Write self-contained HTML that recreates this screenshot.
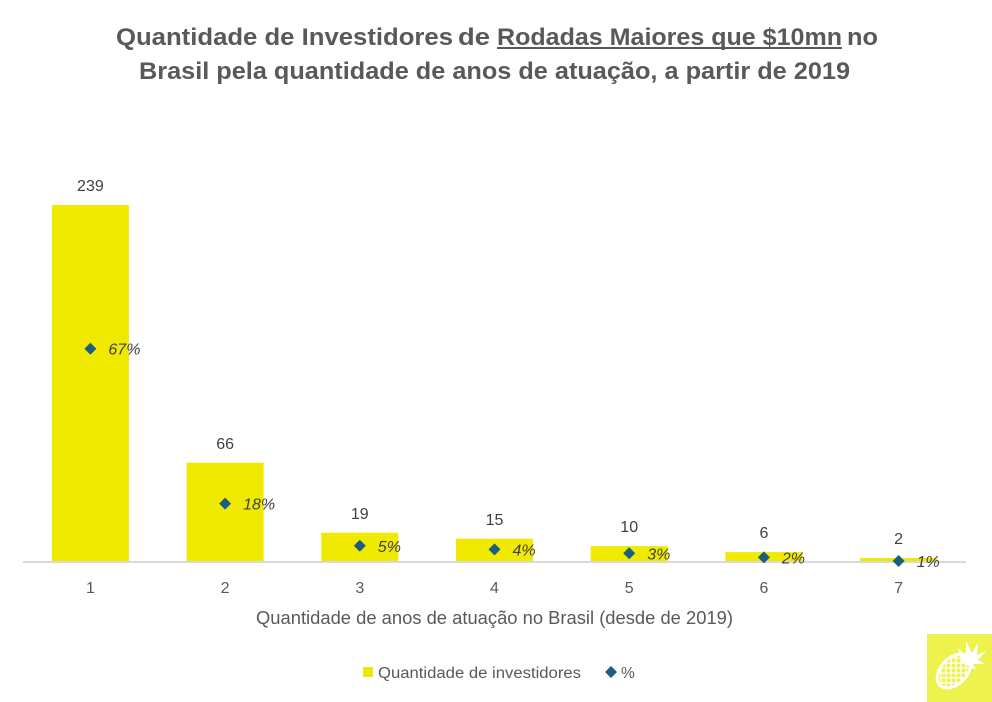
<!DOCTYPE html>
<html><head><meta charset="utf-8"><style>
html,body{margin:0;padding:0;background:#fff;}
svg{display:block;}
text{font-family:"Liberation Sans",sans-serif;}
</style></head><body>
<svg width="992" height="702" viewBox="0 0 992 702" xmlns="http://www.w3.org/2000/svg">
<rect width="992" height="702" fill="#fff"/>
<!-- Title -->
<g fill="#595959" font-weight="bold" font-size="24">
<text x="116" y="45" textLength="337" lengthAdjust="spacingAndGlyphs">Quantidade de Investidores</text>
<text x="458" y="45" textLength="32" lengthAdjust="spacingAndGlyphs">de</text>
<text x="497" y="45" textLength="345" lengthAdjust="spacingAndGlyphs">Rodadas Maiores que $10mn</text>
<text x="847" y="45" textLength="31" lengthAdjust="spacingAndGlyphs">no</text>
<text x="139" y="79" textLength="711" lengthAdjust="spacingAndGlyphs">Brasil pela quantidade de anos de atuação, a partir de 2019</text>
</g>
<rect x="497" y="47" width="345" height="2" fill="#595959"/>
<!-- Bars -->
<g fill="#f0ea00">
<rect x="51.9" y="205" width="77" height="356"/>
<rect x="186.6" y="462.7" width="77" height="98.3"/>
<rect x="321.3" y="532.7" width="77" height="28.3"/>
<rect x="456" y="538.7" width="77" height="22.3"/>
<rect x="590.7" y="546.1" width="77" height="14.9"/>
<rect x="725.4" y="552.1" width="77" height="8.9"/>
<rect x="860.1" y="558" width="77" height="3"/>
</g>
<!-- Axis line -->
<rect x="23" y="561" width="943" height="2" fill="#d9d9d9"/>
<!-- Value labels -->
<g fill="#404040" font-size="16" text-anchor="middle">
<text x="90.4" y="191">239</text>
<text x="225.1" y="449">66</text>
<text x="359.8" y="519">19</text>
<text x="494.5" y="525">15</text>
<text x="629.2" y="532">10</text>
<text x="763.9" y="538">6</text>
<text x="898.6" y="544">2</text>
</g>
<!-- Diamonds -->
<g fill="#1b5e80">
<path d="M90.4 342.7 L96.4 348.7 L90.4 354.7 L84.4 348.7Z"/>
<path d="M225.1 497.6 L231.1 503.6 L225.1 509.6 L219.1 503.6Z"/>
<path d="M359.8 539.8 L365.8 545.8 L359.8 551.8 L353.8 545.8Z"/>
<path d="M494.5 543.4 L500.5 549.4 L494.5 555.4 L488.5 549.4Z"/>
<path d="M629.2 547.3 L635.2 553.3 L629.2 559.3 L623.2 553.3Z"/>
<path d="M763.9 551.4 L769.9 557.4 L763.9 563.4 L757.9 557.4Z"/>
<path d="M898.6 555 L904.6 561 L898.6 567 L892.6 561Z"/>
</g>
<!-- Percent labels -->
<g fill="#404040" font-size="16" font-style="italic">
<text x="108.4" y="354.7">67%</text>
<text x="243.1" y="509.6">18%</text>
<text x="377.8" y="551.8">5%</text>
<text x="512.5" y="555.4">4%</text>
<text x="647.2" y="559.3">3%</text>
<text x="781.9" y="563.4">2%</text>
<text x="916.6" y="567">1%</text>
</g>
<!-- Tick labels -->
<g fill="#595959" font-size="16" text-anchor="middle">
<text x="90.4" y="593">1</text>
<text x="225.1" y="593">2</text>
<text x="359.8" y="593">3</text>
<text x="494.5" y="593">4</text>
<text x="629.2" y="593">5</text>
<text x="763.9" y="593">6</text>
<text x="898.6" y="593">7</text>
</g>
<!-- Axis title -->
<text x="256" y="624" fill="#595959" font-size="18" textLength="477" lengthAdjust="spacingAndGlyphs">Quantidade de anos de atuação no Brasil (desde de 2019)</text>
<!-- Legend -->
<rect x="363" y="667" width="10" height="10" fill="#f0ea00"/>
<text x="378" y="678" fill="#595959" font-size="15.5" textLength="203" lengthAdjust="spacingAndGlyphs">Quantidade de investidores</text>
<path d="M611 666 L617 672 L611 678 L605 672Z" fill="#1b5e80"/>
<text x="621" y="678" fill="#595959" font-size="15.5">%</text>
<!-- Logo -->
<rect x="927" y="634" width="65" height="68" fill="#eef24d"/>
<defs><clipPath id="pc"><ellipse cx="954" cy="671" rx="19" ry="12" transform="rotate(-45 954 671)"/></clipPath></defs>
<g fill="#fff">
<path d="M962 662 L958 648 L966 656 L966 641 L972 653 L978 643 L977 655 L986 651 L978 660 L985 664 L973 664 L976 670 Z"/>
</g>
<g stroke="#fff" fill="none">
<ellipse cx="954" cy="671" rx="20" ry="13" transform="rotate(-45 954 671)" stroke-width="3"/>
<g stroke-width="1.3" clip-path="url(#pc)">
<line x1="932" y1="658" x2="976" y2="658"/>
<line x1="932" y1="663" x2="976" y2="663"/>
<line x1="932" y1="668" x2="976" y2="668"/>
<line x1="932" y1="673" x2="976" y2="673"/>
<line x1="932" y1="678" x2="976" y2="678"/>
<line x1="932" y1="683" x2="976" y2="683"/>
<line x1="941" y1="650" x2="941" y2="692"/>
<line x1="946" y1="650" x2="946" y2="692"/>
<line x1="951" y1="650" x2="951" y2="692"/>
<line x1="956" y1="650" x2="956" y2="692"/>
<line x1="961" y1="650" x2="961" y2="692"/>
<line x1="966" y1="650" x2="966" y2="692"/>
</g>
</g>
</svg>
</body></html>
